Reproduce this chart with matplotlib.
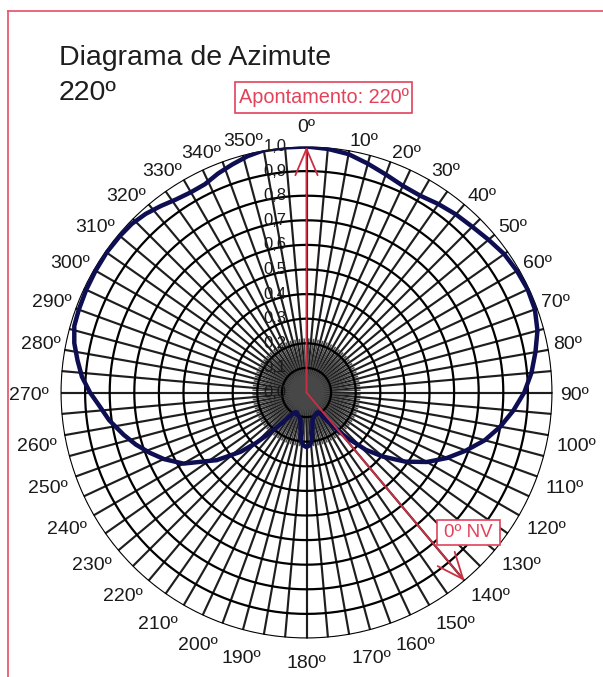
import numpy as np
import matplotlib
matplotlib.use("Agg")
import matplotlib.pyplot as plt
from matplotlib.patches import Rectangle, Circle
from matplotlib.lines import Line2D

plt.rcParams['font.family'] = ['Liberation Sans', 'DejaVu Sans']

# ---------------- data ----------------
title_line1 = "Diagrama de Azimute"
title_line2 = "220º"
pointing_label = "Apontamento: 220º"
north_label = "0º NV"
pointing_deg = 0.0       # direction of the pointing arrow on the chart
north_deg = 140.0        # direction of the true-north arrow on the chart

ring_values = [0.1, 0.2, 0.3, 0.4, 0.5, 0.6, 0.7, 0.8, 0.9, 1.0]
ring_labels = ["0,0", "0,1", "0,2", "0,3", "0,4", "0,5", "0,6", "0,7", "0,8", "0,9", "1,0"]
ring_label_values = [0.0, 0.1, 0.2, 0.3, 0.4, 0.5, 0.6, 0.7, 0.8, 0.9, 1.0]

angle_ticks = list(range(0, 360, 10))
angle_labels = [f"{a}º" for a in angle_ticks]

pattern_az = [0, 5, 10, 15, 20, 25, 30, 35, 40, 45, 50, 55, 60, 65, 70, 75, 80, 85,
              90, 95, 100, 105, 110, 115, 120, 125, 130, 134, 138, 141, 144, 147,
              150, 154, 159, 164, 168, 171, 173.5, 176, 180, 184, 186.5, 189, 192,
              196, 201, 206, 210, 213, 216, 219, 222, 225, 228, 233, 240, 245, 249,
              253, 257, 262, 266, 270, 274, 278, 282, 286, 290, 295, 300, 305, 310,
              314, 318, 322, 326, 330, 334, 338, 342, 346, 350, 355]
pattern_val = [1.0, 0.994, 0.984, 0.963, 0.943, 0.927, 0.924, 0.935, 0.945, 0.953,
               0.966, 0.981, 0.988, 0.992, 0.988, 0.972, 0.945, 0.918,
               0.885, 0.844, 0.80, 0.75, 0.69, 0.63, 0.565, 0.49, 0.405, 0.335,
               0.25, 0.19, 0.14, 0.105,
               0.092, 0.093, 0.098, 0.105, 0.115, 0.155, 0.195, 0.214, 0.222,
               0.214, 0.195, 0.155, 0.115,
               0.105, 0.098, 0.090, 0.093, 0.105, 0.125, 0.16, 0.22, 0.29, 0.36,
               0.457, 0.578, 0.64, 0.683,
               0.725, 0.763, 0.81, 0.841, 0.88, 0.915, 0.94, 0.965, 0.982, 0.985,
               0.988, 0.99, 0.992, 0.99,
               0.987, 0.977, 0.962, 0.947, 0.94, 0.942, 0.96, 0.975, 0.99, 1.0, 1.0]

spoke_step = 5.0

# ---------------- layout ----------------
W, H = 603, 677
DPI = 100
fig = plt.figure(figsize=(W / DPI, H / DPI), dpi=DPI)
fig.patch.set_facecolor('white')

cx, cy = 306.5, H - 392.5
R = 246.0
ax = fig.add_axes([(cx - R) / W, (cy - R) / H, 2 * R / W, 2 * R / H], projection='polar')
ax.set_theta_zero_location('N')
ax.set_theta_direction(-1)
ax.set_ylim(0, 1)
ax.set_xticks([])
ax.set_yticks([])
ax.grid(False)
ax.spines['polar'].set_visible(False)

full = np.linspace(0, 2 * np.pi, 721)
for a in np.arange(0, 360, spoke_step):
    t = np.deg2rad(a)
    ax.plot([t, t], [0, 1], color='#1e1e1e', lw=1.55, zorder=1, solid_capstyle='butt')
# denser grey fan near the hub
for a in np.arange(spoke_step / 2, 360, spoke_step):
    t = np.deg2rad(a)
    ax.plot([t, t], [0, 0.22], color='#4a4a4a', lw=1.1, zorder=1, solid_capstyle='butt')
ax.add_artist(Circle((0.5, 0.5), 0.035, transform=ax.transAxes, facecolor='#474747',
                     edgecolor='none', zorder=1.5))
for r in ring_values:
    ax.plot(full, np.full_like(full, r), color='black', lw=1.6, zorder=2)

# pattern curve
th = np.deg2rad(pattern_az + [pattern_az[0]])
vv = pattern_val + [pattern_val[0]]
ax.plot(th, vv, color='#0e0e52', lw=3.2, zorder=4, solid_joinstyle='round')

# radial labels
for lab, v in zip(ring_labels, ring_label_values):
    ax.annotate(lab, xy=(0, v), xycoords='data', xytext=(-20, 0),
                textcoords='offset pixels', ha='right', va='center',
                fontsize=12, color='#1a1a1a', zorder=6, annotation_clip=False)

# arrows
red = '#cc2f43'
for ang in [pointing_deg, north_deg]:
    t = np.deg2rad(ang)
    ax.annotate('', xy=(t, 1.0), xytext=(t, 0.0), xycoords='data',
                arrowprops=dict(arrowstyle='->,head_length=0.95,head_width=0.4',
                                color=red, lw=1.3, shrinkA=0, shrinkB=0,
                                mutation_scale=20),
                zorder=5, annotation_clip=False)

# angle labels placed around circle
fig.canvas.draw()
renderer = fig.canvas.get_renderer()
fs = 14
fs_px = fs * DPI / 72.0
hg = 0.72 * fs_px
for ang, lab in zip(angle_ticks, angle_labels):
    t = np.deg2rad(ang)
    ux, uy = np.sin(t), np.cos(t)
    tmp = fig.text(0, 0, lab, fontsize=fs)
    bb = tmp.get_window_extent(renderer)
    tmp.remove()
    w = bb.width
    sx = 0 if abs(ux) < 0.05 else np.sign(ux)
    sy = 0 if abs(uy) < 0.05 else np.sign(uy)
    if ang == 0:
        d = 260
    elif ang == 180:
        d = 261
    elif ang == 90:
        d = 254
    elif ang == 270:
        d = 258
    elif uy > 0:
        d = 250
    else:
        d = 254 + 7 * max(0.0, (-uy - 0.75) / 0.25)
    gx = d * ux + sx * w / 2
    gy = d * uy + sy * hg / 2
    ax.annotate(lab, xy=(0, 0), xycoords='data', xytext=(gx, gy - hg / 2),
                textcoords='offset pixels', ha='center', va='baseline',
                fontsize=fs, color='#1a1a1a', annotation_clip=False)

# title
fig.text(59 / W, 1 - 65 / H, title_line1, fontsize=20.5, color='#1e1e1e',
         ha='left', va='baseline')
fig.text(59 / W, 1 - 100 / H, title_line2, fontsize=20.5, color='#1e1e1e',
         ha='left', va='baseline')

# label boxes
box_red = '#e2425a'
def pix_box(x0, y0, x1, y1, text, size):
    rect = Rectangle((x0 / W, 1 - y1 / H), (x1 - x0) / W, (y1 - y0) / H,
                     transform=fig.transFigure, facecolor='white',
                     edgecolor=box_red, lw=1.2, zorder=10)
    fig.patches.append(rect)
    fig.text((x0 + x1) / 2 / W, 1 - (y0 + y1) / 2 / H, text, fontsize=size,
             color=box_red, ha='center', va='center', zorder=11)

pix_box(235, 82, 412, 113, pointing_label, 14.3)
pix_box(437, 520, 500, 545, north_label, 13.5)

# frame lines
frame_c = '#ea5a70'
fig.add_artist(Line2D([8 / W, 8 / W], [0, 1 - 11 / H], transform=fig.transFigure,
                      color=frame_c, lw=1.3))
fig.add_artist(Line2D([8 / W, 1], [1 - 11 / H, 1 - 11 / H], transform=fig.transFigure,
                      color=frame_c, lw=1.3))

fig.savefig('out.png', dpi=DPI, facecolor='white')
